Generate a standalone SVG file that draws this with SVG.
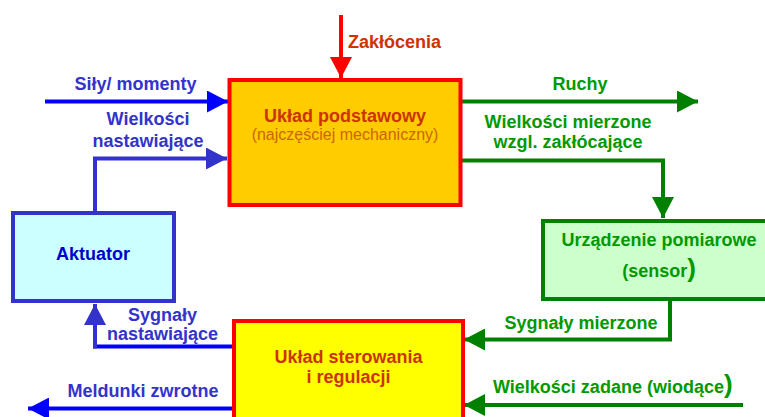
<svg xmlns="http://www.w3.org/2000/svg" width="765" height="417" viewBox="0 0 765 417">
  <style>
    .lbl { font-family: "Liberation Sans", Arial, sans-serif; font-weight: bold; font-size: 18px; }
    .sub { font-family: "Liberation Sans", Arial, sans-serif; font-size: 16px; fill: #CC6600; }
    .mid { text-anchor: middle; }
    .blue { fill: #3333CC; }
    .green { fill: #009900; }
    .red { fill: #CC3300; }
    .ln { fill: none; stroke-width: 4; }
  </style>
  <defs>
    <marker id="ahRed" markerUnits="userSpaceOnUse" markerWidth="22" markerHeight="22" refX="21" refY="11" orient="auto">
      <path d="M0,0 L21,11 L0,22 z" fill="#FF0000"/>
    </marker>
    <marker id="ahBlue" markerUnits="userSpaceOnUse" markerWidth="22" markerHeight="22" refX="21" refY="11" orient="auto">
      <path d="M0,0 L21,11 L0,22 z" fill="#0000FF"/>
    </marker>
    <marker id="ahIndigo" markerUnits="userSpaceOnUse" markerWidth="22" markerHeight="22" refX="21" refY="11" orient="auto">
      <path d="M0,0 L21,11 L0,22 z" fill="#3333CC"/>
    </marker>
    <marker id="ahGreen" markerUnits="userSpaceOnUse" markerWidth="22" markerHeight="22" refX="21" refY="11" orient="auto">
      <path d="M0,0 L21,11 L0,22 z" fill="#008000"/>
    </marker>
  </defs>
  <rect width="765" height="417" fill="#FFFFFF"/>

  <!-- connectors -->
  <g id="connectors">
    <path class="ln" d="M341,15 V78" stroke="#FF0000" marker-end="url(#ahRed)"/>
    <path class="ln" d="M45,101.5 H228" stroke="#0000FF" marker-end="url(#ahBlue)"/>
    <path class="ln" d="M95,213 V158.5 H227" stroke="#3333CC" marker-end="url(#ahIndigo)"/>
    <path class="ln" d="M232,346.5 H93" stroke="#0000FF"/>
    <path class="ln" d="M95,348.5 V304" stroke="#3333CC" marker-end="url(#ahIndigo)"/>
    <path class="ln" d="M232,408.5 H28" stroke="#0000FF" marker-end="url(#ahBlue)"/>
    <path class="ln" d="M462,101.5 H698" stroke="#008000" marker-end="url(#ahGreen)"/>
    <path class="ln" d="M462,160.5 H663 V218" stroke="#008000" marker-end="url(#ahGreen)"/>
    <path class="ln" d="M670,300 V339.5 H464" stroke="#008000" marker-end="url(#ahGreen)"/>
    <path class="ln" d="M743,405 H464" stroke="#008000" marker-end="url(#ahGreen)"/>
  </g>

  <!-- nodes -->
  <g id="uklad-podstawowy">
    <rect x="229.5" y="80" width="231" height="125" fill="#FFCC00" stroke="#FF0000" stroke-width="4"/>
    <text class="lbl red mid" x="345" y="122">Układ podstawowy</text>
    <text class="sub mid" x="345" y="140">(najczęściej mechaniczny)</text>
  </g>
  <g id="aktuator">
    <rect x="13" y="213" width="161" height="88" fill="#CCFFFF" stroke="#3333CC" stroke-width="4"/>
    <text class="lbl mid" x="93" y="260" fill="#0000CC">Aktuator</text>
  </g>
  <g id="uklad-sterowania">
    <rect x="234" y="321" width="229" height="110" fill="#FFFF00" stroke="#FF0000" stroke-width="4"/>
    <text class="lbl red mid" x="348.5" y="363">Układ sterowania</text>
    <text class="lbl red mid" x="348.5" y="383">i regulacji</text>
  </g>
  <g id="sensor">
    <rect x="543" y="221" width="240" height="78" fill="#CCFFCC" stroke="#008000" stroke-width="4"/>
    <text class="lbl green mid" x="659" y="245.5">Urządzenie pomiarowe</text>
    <text class="lbl green mid" x="659" y="277">(sensor<tspan font-size="26">)</tspan></text>
  </g>

  <!-- signal labels -->
  <g id="labels">
    <text class="lbl red" x="348" y="48">Zakłócenia</text>
    <text class="lbl blue mid" x="135.5" y="90">Siły/ momenty</text>
    <text class="lbl blue mid" x="148" y="125">Wielkości</text>
    <text class="lbl blue mid" x="148" y="146.5">nastawiające</text>
    <text class="lbl blue mid" x="162.5" y="320.5">Sygnały</text>
    <text class="lbl blue mid" x="162.5" y="340">nastawiające</text>
    <text class="lbl blue mid" x="143" y="396.5">Meldunki zwrotne</text>
    <text class="lbl green mid" x="580" y="90">Ruchy</text>
    <text class="lbl green mid" x="568" y="128">Wielkości mierzone</text>
    <text class="lbl green mid" x="568" y="148">wzgl. zakłócające</text>
    <text class="lbl green mid" x="581" y="329">Sygnały mierzone</text>
    <text class="lbl green" x="493" y="393">Wielkości zadane (wiodące<tspan font-size="26">)</tspan></text>
  </g>
</svg>
